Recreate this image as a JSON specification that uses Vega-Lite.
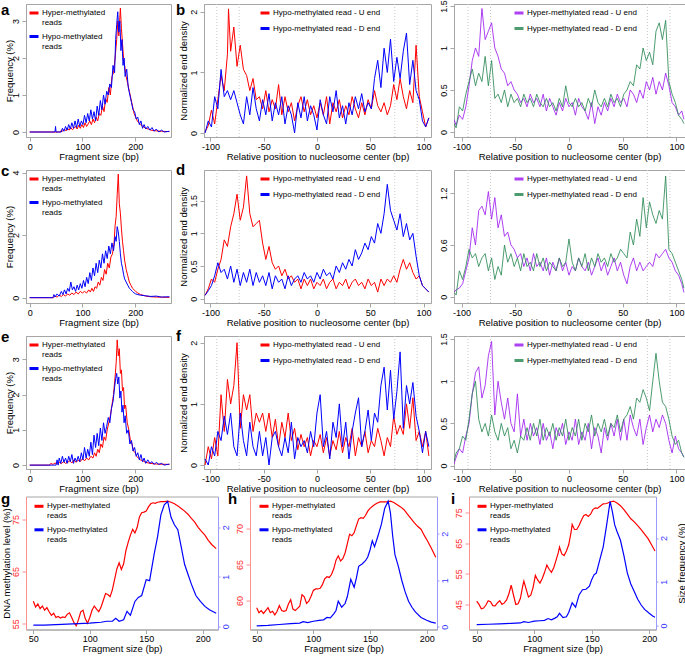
{"$schema":"https://vega.github.io/schema/vega-lite/v6.json","padding":{"left":0,"top":-1,"right":0,"bottom":0},
"config":{"font":"Liberation Sans","view":{"stroke":"#a6a6a6"},
"axis":{"grid":false,"domainColor":"#a6a6a6","tickColor":"#a6a6a6","tickSize":4,"labelFontSize":9,"labelColor":"#000000","labelPadding":2,"titleFontSize":9.5,"titleFontWeight":"normal","titleColor":"#000000","labelFlush":false,"labelOverlap":false},
"axisBottom":{"labelPadding":1},
"axisLeft":{"labelAngle":-90,"labelAlign":"center","labelBaseline":"bottom"},
"axisRight":{"labelAngle":-90,"labelAlign":"center","labelBaseline":"top","tickSize":2,"labelPadding":1,"titleAngle":-90},
"legend":{"symbolType":"stroke","symbolStrokeWidth":3,"symbolSize":81,"labelFontSize":8,"labelOffset":2,"padding":0,"rowPadding":3.5,"labelColor":"#000000"},
"title":{"anchor":"start","frame":"group","fontSize":15,"fontWeight":"bold","baseline":"alphabetic","color":"#000000"}},
"datasets":{
"vl":[{"x":-94},{"x":-73},{"x":73},{"x":94}],
"aR":[{"x":0,"y":0},{"x":58,"y":0},{"x":60,"y":0.05},{"x":63,"y":0.02},{"x":66,"y":0.08},{"x":69,"y":0.03},{"x":72,"y":0.1},{"x":75,"y":0.05},{"x":78,"y":0.12},{"x":81,"y":0.06},{"x":84,"y":0.1},{"x":87,"y":0.15},{"x":90,"y":0.08},{"x":93,"y":0.18},{"x":96,"y":0.1},{"x":99,"y":0.2},{"x":102,"y":0.12},{"x":105,"y":0.25},{"x":108,"y":0.15},{"x":111,"y":0.22},{"x":114,"y":0.3},{"x":117,"y":0.2},{"x":120,"y":0.35},{"x":123,"y":0.25},{"x":126,"y":0.4},{"x":129,"y":0.3},{"x":132,"y":0.5},{"x":135,"y":0.45},{"x":138,"y":0.7},{"x":141,"y":0.55},{"x":144,"y":0.9},{"x":147,"y":0.8},{"x":150,"y":1.2},{"x":153,"y":1.0},{"x":156,"y":1.5},{"x":159,"y":1.6},{"x":162,"y":2.0},{"x":165,"y":2.5},{"x":167,"y":3.0},{"x":169,"y":2.6},{"x":172,"y":3.35},{"x":174,"y":2.8},{"x":176,"y":2.4},{"x":178,"y":2.0},{"x":180,"y":1.8},{"x":183,"y":1.5},{"x":186,"y":1.3},{"x":189,"y":1.1},{"x":192,"y":0.9},{"x":195,"y":0.7},{"x":198,"y":0.5},{"x":201,"y":0.4},{"x":204,"y":0.3},{"x":207,"y":0.25},{"x":210,"y":0.2},{"x":215,"y":0.15},{"x":220,"y":0.1},{"x":225,"y":0.08},{"x":230,"y":0.05},{"x":240,"y":0.03},{"x":250,"y":0.02},{"x":265,"y":0.01}],
"aB":[{"x":0,"y":0},{"x":48,"y":0},{"x":49,"y":0.15},{"x":50,"y":0},{"x":60,"y":0},{"x":62,"y":0.1},{"x":65,"y":0.02},{"x":68,"y":0.15},{"x":71,"y":0.05},{"x":74,"y":0.2},{"x":77,"y":0.08},{"x":80,"y":0.25},{"x":83,"y":0.1},{"x":86,"y":0.3},{"x":89,"y":0.12},{"x":92,"y":0.35},{"x":95,"y":0.15},{"x":98,"y":0.3},{"x":101,"y":0.2},{"x":104,"y":0.45},{"x":107,"y":0.25},{"x":110,"y":0.5},{"x":113,"y":0.3},{"x":116,"y":0.6},{"x":119,"y":0.35},{"x":122,"y":0.55},{"x":125,"y":0.3},{"x":128,"y":0.7},{"x":131,"y":0.45},{"x":134,"y":0.85},{"x":137,"y":0.6},{"x":140,"y":1.0},{"x":143,"y":0.75},{"x":146,"y":1.1},{"x":149,"y":1.0},{"x":152,"y":1.3},{"x":155,"y":1.2},{"x":158,"y":1.8},{"x":161,"y":1.6},{"x":163,"y":2.5},{"x":165,"y":2.9},{"x":167,"y":3.25},{"x":169,"y":2.7},{"x":171,"y":3.0},{"x":173,"y":2.2},{"x":175,"y":2.5},{"x":177,"y":1.8},{"x":179,"y":2.0},{"x":181,"y":1.5},{"x":184,"y":1.7},{"x":187,"y":1.2},{"x":190,"y":1.0},{"x":193,"y":0.8},{"x":196,"y":0.6},{"x":199,"y":0.55},{"x":202,"y":0.35},{"x":205,"y":0.4},{"x":208,"y":0.2},{"x":211,"y":0.3},{"x":214,"y":0.1},{"x":217,"y":0.2},{"x":220,"y":0.08},{"x":224,"y":0.15},{"x":228,"y":0.05},{"x":232,"y":0.12},{"x":236,"y":0.02},{"x":240,"y":0.08},{"x":245,"y":0},{"x":250,"y":0.05},{"x":255,"y":0},{"x":265,"y":0.02}],
"cR":[{"x":0,"y":0},{"x":45,"y":0},{"x":48,"y":0.05},{"x":52,"y":0.02},{"x":56,"y":0.08},{"x":60,"y":0.04},{"x":64,"y":0.1},{"x":68,"y":0.05},{"x":72,"y":0.12},{"x":76,"y":0.08},{"x":80,"y":0.15},{"x":84,"y":0.1},{"x":88,"y":0.18},{"x":92,"y":0.12},{"x":96,"y":0.2},{"x":100,"y":0.15},{"x":104,"y":0.2},{"x":108,"y":0.15},{"x":112,"y":0.25},{"x":115,"y":0.18},{"x":118,"y":0.3},{"x":121,"y":0.2},{"x":124,"y":0.35},{"x":127,"y":0.3},{"x":130,"y":0.5},{"x":133,"y":0.4},{"x":136,"y":0.65},{"x":139,"y":0.55},{"x":142,"y":0.9},{"x":145,"y":0.75},{"x":148,"y":1.1},{"x":151,"y":0.95},{"x":154,"y":1.3},{"x":157,"y":1.4},{"x":160,"y":1.75},{"x":162,"y":2.3},{"x":164,"y":2.6},{"x":166,"y":3.3},{"x":168,"y":3.95},{"x":170,"y":3.0},{"x":172,"y":2.7},{"x":174,"y":2.2},{"x":176,"y":1.8},{"x":178,"y":1.5},{"x":180,"y":1.2},{"x":183,"y":0.9},{"x":186,"y":0.7},{"x":189,"y":0.5},{"x":192,"y":0.4},{"x":195,"y":0.3},{"x":198,"y":0.25},{"x":201,"y":0.2},{"x":205,"y":0.15},{"x":210,"y":0.1},{"x":215,"y":0.08},{"x":220,"y":0.05},{"x":230,"y":0.03},{"x":240,"y":0.02},{"x":265,"y":0.01}],
"cB":[{"x":0,"y":0},{"x":44,"y":0},{"x":46,"y":0.1},{"x":48,"y":0.02},{"x":52,"y":0.12},{"x":56,"y":0.05},{"x":60,"y":0.2},{"x":63,"y":0.1},{"x":66,"y":0.25},{"x":69,"y":0.12},{"x":72,"y":0.3},{"x":75,"y":0.2},{"x":78,"y":0.5},{"x":81,"y":0.25},{"x":84,"y":0.35},{"x":87,"y":0.2},{"x":90,"y":0.4},{"x":93,"y":0.25},{"x":96,"y":0.45},{"x":99,"y":0.3},{"x":102,"y":0.55},{"x":105,"y":0.35},{"x":108,"y":0.65},{"x":111,"y":0.45},{"x":114,"y":0.8},{"x":117,"y":0.55},{"x":120,"y":0.95},{"x":123,"y":0.7},{"x":126,"y":1.1},{"x":129,"y":0.8},{"x":132,"y":1.2},{"x":135,"y":0.95},{"x":138,"y":1.4},{"x":141,"y":1.1},{"x":144,"y":1.5},{"x":147,"y":1.25},{"x":150,"y":1.65},{"x":153,"y":1.4},{"x":156,"y":1.75},{"x":159,"y":1.5},{"x":162,"y":1.95},{"x":164,"y":1.8},{"x":166,"y":2.27},{"x":168,"y":2.1},{"x":170,"y":1.8},{"x":172,"y":1.4},{"x":174,"y":1.1},{"x":176,"y":0.95},{"x":178,"y":0.75},{"x":180,"y":0.6},{"x":183,"y":0.5},{"x":186,"y":0.4},{"x":189,"y":0.3},{"x":192,"y":0.25},{"x":195,"y":0.2},{"x":198,"y":0.15},{"x":201,"y":0.12},{"x":205,"y":0.1},{"x":210,"y":0.08},{"x":220,"y":0.06},{"x":230,"y":0.04},{"x":240,"y":0.05},{"x":250,"y":0.02},{"x":265,"y":0.03}],
"eR":[{"x":0,"y":0},{"x":38,"y":0},{"x":40,"y":0.05},{"x":44,"y":0.02},{"x":48,"y":0.06},{"x":52,"y":0.03},{"x":56,"y":0.08},{"x":60,"y":0.04},{"x":64,"y":0.1},{"x":68,"y":0.05},{"x":72,"y":0.08},{"x":76,"y":0.12},{"x":80,"y":0.06},{"x":84,"y":0.15},{"x":88,"y":0.08},{"x":92,"y":0.14},{"x":96,"y":0.1},{"x":100,"y":0.18},{"x":104,"y":0.12},{"x":108,"y":0.2},{"x":112,"y":0.15},{"x":116,"y":0.25},{"x":120,"y":0.2},{"x":123,"y":0.35},{"x":126,"y":0.25},{"x":129,"y":0.45},{"x":132,"y":0.35},{"x":135,"y":0.6},{"x":138,"y":0.5},{"x":141,"y":0.8},{"x":144,"y":0.7},{"x":147,"y":1.0},{"x":150,"y":1.2},{"x":153,"y":1.4},{"x":156,"y":1.7},{"x":159,"y":2.0},{"x":162,"y":2.5},{"x":164,"y":2.9},{"x":166,"y":3.55},{"x":168,"y":3.1},{"x":170,"y":3.3},{"x":172,"y":2.6},{"x":174,"y":2.7},{"x":176,"y":2.1},{"x":178,"y":2.2},{"x":180,"y":1.6},{"x":182,"y":1.7},{"x":185,"y":1.2},{"x":188,"y":1.0},{"x":191,"y":0.7},{"x":194,"y":0.6},{"x":197,"y":0.4},{"x":200,"y":0.35},{"x":203,"y":0.25},{"x":206,"y":0.2},{"x":210,"y":0.15},{"x":215,"y":0.12},{"x":220,"y":0.08},{"x":228,"y":0.05},{"x":240,"y":0.03},{"x":265,"y":0.02}],
"eB":[{"x":0,"y":0},{"x":50,"y":0},{"x":52,"y":0.15},{"x":54,"y":0},{"x":56,"y":0.2},{"x":59,"y":0.05},{"x":62,"y":0.25},{"x":65,"y":0.08},{"x":68,"y":0.2},{"x":71,"y":0.05},{"x":74,"y":0.25},{"x":77,"y":0.1},{"x":80,"y":0.3},{"x":83,"y":0.05},{"x":86,"y":0.2},{"x":89,"y":0.1},{"x":92,"y":0.25},{"x":95,"y":0.1},{"x":98,"y":0.35},{"x":101,"y":0.15},{"x":104,"y":0.5},{"x":107,"y":0.2},{"x":110,"y":0.45},{"x":113,"y":0.25},{"x":116,"y":0.65},{"x":119,"y":0.3},{"x":122,"y":0.85},{"x":125,"y":0.5},{"x":128,"y":0.9},{"x":131,"y":0.55},{"x":134,"y":1.05},{"x":137,"y":0.7},{"x":140,"y":1.2},{"x":143,"y":0.9},{"x":146,"y":1.1},{"x":149,"y":1.35},{"x":152,"y":1.2},{"x":155,"y":1.6},{"x":158,"y":1.8},{"x":161,"y":2.2},{"x":163,"y":2.45},{"x":165,"y":2.6},{"x":167,"y":2.3},{"x":169,"y":2.5},{"x":171,"y":1.9},{"x":173,"y":2.1},{"x":175,"y":1.5},{"x":177,"y":1.7},{"x":179,"y":1.2},{"x":181,"y":1.4},{"x":184,"y":0.9},{"x":187,"y":1.0},{"x":190,"y":0.6},{"x":193,"y":0.7},{"x":196,"y":0.4},{"x":199,"y":0.5},{"x":202,"y":0.25},{"x":205,"y":0.35},{"x":208,"y":0.15},{"x":211,"y":0.3},{"x":214,"y":0.1},{"x":217,"y":0.2},{"x":220,"y":0.05},{"x":224,"y":0.15},{"x":228,"y":0.05},{"x":232,"y":0.1},{"x":236,"y":0.02},{"x":240,"y":0.08},{"x":245,"y":0.02},{"x":250,"y":0.05},{"x":255,"y":0},{"x":265,"y":0.03}],
"bU":[{"x":-105,"y":0.02},{"x":-102,"y":0.12},{"x":-99,"y":0.38},{"x":-96,"y":0.15},{"x":-93,"y":0.55},{"x":-90,"y":0.95},{"x":-87,"y":0.7},{"x":-84,"y":1.3},{"x":-83,"y":2.05},{"x":-81,"y":1.35},{"x":-78,"y":1.75},{"x":-75,"y":1.1},{"x":-72,"y":1.45},{"x":-69,"y":1.05},{"x":-66,"y":0.95},{"x":-63,"y":0.7},{"x":-60,"y":0.9},{"x":-57,"y":0.55},{"x":-54,"y":0.6},{"x":-51,"y":0.4},{"x":-48,"y":0.7},{"x":-45,"y":0.35},{"x":-42,"y":0.55},{"x":-39,"y":0.4},{"x":-36,"y":0.8},{"x":-33,"y":0.3},{"x":-30,"y":0.6},{"x":-27,"y":0.35},{"x":-24,"y":0.5},{"x":-21,"y":0.2},{"x":-18,"y":0.45},{"x":-15,"y":0.6},{"x":-12,"y":0.35},{"x":-9,"y":0.55},{"x":-6,"y":0.3},{"x":-3,"y":0.45},{"x":0,"y":0.25},{"x":3,"y":0.5},{"x":6,"y":0.3},{"x":9,"y":0.6},{"x":12,"y":0.15},{"x":15,"y":0.5},{"x":18,"y":0.35},{"x":21,"y":0.55},{"x":24,"y":0.25},{"x":27,"y":0.45},{"x":30,"y":0.3},{"x":33,"y":0.6},{"x":36,"y":0.4},{"x":39,"y":0.25},{"x":42,"y":0.5},{"x":45,"y":0.3},{"x":48,"y":0.55},{"x":51,"y":0.4},{"x":54,"y":0.7},{"x":57,"y":0.45},{"x":60,"y":0.35},{"x":63,"y":0.5},{"x":66,"y":0.3},{"x":69,"y":0.45},{"x":72,"y":0.8},{"x":75,"y":0.55},{"x":78,"y":0.9},{"x":81,"y":0.6},{"x":84,"y":0.4},{"x":87,"y":0.7},{"x":90,"y":0.5},{"x":93,"y":1.45},{"x":96,"y":0.6},{"x":99,"y":0.35},{"x":102,"y":0.1},{"x":105,"y":0.25}],
"bD":[{"x":-105,"y":0},{"x":-102,"y":0.2},{"x":-99,"y":0.1},{"x":-96,"y":0.6},{"x":-93,"y":0.4},{"x":-90,"y":1.05},{"x":-87,"y":0.6},{"x":-84,"y":0.7},{"x":-81,"y":0.55},{"x":-78,"y":0.7},{"x":-75,"y":0.5},{"x":-72,"y":0.3},{"x":-69,"y":0.15},{"x":-66,"y":0.6},{"x":-63,"y":0.3},{"x":-60,"y":0.75},{"x":-57,"y":0.4},{"x":-54,"y":0.2},{"x":-51,"y":0.55},{"x":-48,"y":0.3},{"x":-45,"y":0.65},{"x":-42,"y":0.2},{"x":-39,"y":0.5},{"x":-36,"y":0.3},{"x":-33,"y":0.6},{"x":-30,"y":0.15},{"x":-27,"y":0.45},{"x":-24,"y":0.3},{"x":-21,"y":0},{"x":-18,"y":0.5},{"x":-15,"y":0.25},{"x":-12,"y":0.6},{"x":-9,"y":0.2},{"x":-6,"y":0.45},{"x":-3,"y":0.3},{"x":0,"y":0.05},{"x":3,"y":0.55},{"x":6,"y":0.3},{"x":9,"y":0.15},{"x":12,"y":0.6},{"x":15,"y":0.35},{"x":18,"y":0.7},{"x":21,"y":0.25},{"x":24,"y":0.45},{"x":27,"y":0.15},{"x":30,"y":0.5},{"x":33,"y":0.3},{"x":36,"y":0.6},{"x":39,"y":0.4},{"x":42,"y":0.65},{"x":45,"y":0.35},{"x":48,"y":0.5},{"x":51,"y":0.4},{"x":54,"y":0.9},{"x":57,"y":1.2},{"x":60,"y":0.75},{"x":63,"y":1.4},{"x":66,"y":1.0},{"x":69,"y":1.55},{"x":72,"y":0.85},{"x":75,"y":1.25},{"x":78,"y":0.9},{"x":81,"y":1.35},{"x":84,"y":1.65},{"x":87,"y":0.8},{"x":90,"y":1.2},{"x":93,"y":0.7},{"x":96,"y":0.55},{"x":99,"y":0.2},{"x":102,"y":0.1},{"x":105,"y":0.25}],
"b2U":[{"x":-107,"y":0.15},{"x":-105,"y":0.08},{"x":-102,"y":0.2},{"x":-99,"y":0.15},{"x":-96,"y":0.3},{"x":-93,"y":0.55},{"x":-90,"y":0.85},{"x":-87,"y":1.0},{"x":-84,"y":0.9},{"x":-81,"y":1.47},{"x":-78,"y":1.1},{"x":-75,"y":1.2},{"x":-72,"y":1.3},{"x":-69,"y":1.0},{"x":-66,"y":0.9},{"x":-63,"y":0.75},{"x":-60,"y":0.7},{"x":-57,"y":0.55},{"x":-54,"y":0.6},{"x":-51,"y":0.5},{"x":-48,"y":0.45},{"x":-45,"y":0.35},{"x":-42,"y":0.4},{"x":-39,"y":0.3},{"x":-36,"y":0.45},{"x":-33,"y":0.35},{"x":-30,"y":0.4},{"x":-27,"y":0.3},{"x":-24,"y":0.45},{"x":-21,"y":0.25},{"x":-18,"y":0.4},{"x":-15,"y":0.3},{"x":-12,"y":0.2},{"x":-9,"y":0.35},{"x":-6,"y":0.25},{"x":-3,"y":0.4},{"x":0,"y":0.3},{"x":3,"y":0.35},{"x":6,"y":0.2},{"x":9,"y":0.4},{"x":12,"y":0.3},{"x":15,"y":0.25},{"x":18,"y":0.15},{"x":21,"y":0.35},{"x":24,"y":0.1},{"x":27,"y":0.3},{"x":30,"y":0.2},{"x":33,"y":0.35},{"x":36,"y":0.25},{"x":39,"y":0.4},{"x":42,"y":0.3},{"x":45,"y":0.45},{"x":48,"y":0.35},{"x":51,"y":0.4},{"x":54,"y":0.3},{"x":57,"y":0.5},{"x":60,"y":0.45},{"x":63,"y":0.35},{"x":66,"y":0.5},{"x":69,"y":0.4},{"x":72,"y":0.6},{"x":75,"y":0.5},{"x":78,"y":0.65},{"x":81,"y":0.45},{"x":84,"y":0.6},{"x":87,"y":0.5},{"x":90,"y":0.7},{"x":93,"y":0.55},{"x":96,"y":0.35},{"x":99,"y":0.3},{"x":102,"y":0.2},{"x":105,"y":0.25},{"x":107,"y":0.15}],
"b2D":[{"x":-107,"y":0.1},{"x":-105,"y":0.05},{"x":-102,"y":0.3},{"x":-99,"y":0.25},{"x":-96,"y":0.45},{"x":-93,"y":0.6},{"x":-90,"y":0.75},{"x":-87,"y":0.55},{"x":-84,"y":0.7},{"x":-81,"y":0.6},{"x":-78,"y":0.9},{"x":-75,"y":0.55},{"x":-72,"y":0.85},{"x":-69,"y":0.4},{"x":-66,"y":0.45},{"x":-63,"y":0.35},{"x":-60,"y":0.5},{"x":-57,"y":0.3},{"x":-54,"y":0.45},{"x":-51,"y":0.35},{"x":-48,"y":0.4},{"x":-45,"y":0.3},{"x":-42,"y":0.45},{"x":-39,"y":0.35},{"x":-36,"y":0.4},{"x":-33,"y":0.3},{"x":-30,"y":0.45},{"x":-27,"y":0.35},{"x":-24,"y":0.3},{"x":-21,"y":0.4},{"x":-18,"y":0.3},{"x":-15,"y":0.35},{"x":-12,"y":0.25},{"x":-9,"y":0.4},{"x":-6,"y":0.3},{"x":-3,"y":0.55},{"x":0,"y":0.35},{"x":3,"y":0.3},{"x":6,"y":0.4},{"x":9,"y":0.3},{"x":12,"y":0.35},{"x":15,"y":0.25},{"x":18,"y":0.4},{"x":21,"y":0.3},{"x":24,"y":0.5},{"x":27,"y":0.35},{"x":30,"y":0.3},{"x":33,"y":0.4},{"x":36,"y":0.3},{"x":39,"y":0.45},{"x":42,"y":0.35},{"x":45,"y":0.4},{"x":48,"y":0.3},{"x":51,"y":0.45},{"x":54,"y":0.5},{"x":57,"y":0.6},{"x":60,"y":0.55},{"x":63,"y":0.8},{"x":66,"y":0.75},{"x":69,"y":1.0},{"x":72,"y":0.85},{"x":75,"y":0.95},{"x":78,"y":0.8},{"x":81,"y":1.2},{"x":84,"y":1.3},{"x":87,"y":1.1},{"x":90,"y":1.33},{"x":93,"y":0.6},{"x":96,"y":0.45},{"x":99,"y":0.35},{"x":102,"y":0.2},{"x":105,"y":0.15},{"x":107,"y":0.1}],
"dU":[{"x":-105,"y":0.05},{"x":-102,"y":0.15},{"x":-99,"y":0.3},{"x":-96,"y":0.25},{"x":-93,"y":0.45},{"x":-90,"y":0.6},{"x":-87,"y":0.9},{"x":-84,"y":0.8},{"x":-81,"y":1.1},{"x":-78,"y":1.3},{"x":-75,"y":1.6},{"x":-72,"y":1.2},{"x":-69,"y":1.4},{"x":-66,"y":1.88},{"x":-63,"y":1.3},{"x":-60,"y":1.1},{"x":-57,"y":1.15},{"x":-54,"y":1.2},{"x":-51,"y":0.85},{"x":-48,"y":0.6},{"x":-45,"y":0.8},{"x":-42,"y":0.55},{"x":-39,"y":0.45},{"x":-36,"y":0.5},{"x":-33,"y":0.35},{"x":-30,"y":0.45},{"x":-27,"y":0.3},{"x":-24,"y":0.35},{"x":-21,"y":0.25},{"x":-18,"y":0.3},{"x":-15,"y":0.15},{"x":-12,"y":0.3},{"x":-9,"y":0.2},{"x":-6,"y":0.3},{"x":-3,"y":0.15},{"x":0,"y":0.25},{"x":3,"y":0.2},{"x":6,"y":0.3},{"x":9,"y":0.15},{"x":12,"y":0.25},{"x":15,"y":0.3},{"x":18,"y":0.15},{"x":21,"y":0.25},{"x":24,"y":0.2},{"x":27,"y":0.3},{"x":30,"y":0.15},{"x":33,"y":0.25},{"x":36,"y":0.3},{"x":39,"y":0.2},{"x":42,"y":0.25},{"x":45,"y":0.15},{"x":48,"y":0.3},{"x":51,"y":0.2},{"x":54,"y":0.25},{"x":57,"y":0.1},{"x":60,"y":0.3},{"x":63,"y":0.2},{"x":66,"y":0.3},{"x":69,"y":0.25},{"x":72,"y":0.35},{"x":75,"y":0.25},{"x":78,"y":0.45},{"x":81,"y":0.6},{"x":84,"y":0.45},{"x":87,"y":0.55},{"x":90,"y":0.4},{"x":93,"y":0.3},{"x":96,"y":0.35},{"x":99,"y":0.2},{"x":102,"y":0.15},{"x":105,"y":0.1}],
"dD":[{"x":-105,"y":0.05},{"x":-102,"y":0.12},{"x":-99,"y":0.2},{"x":-96,"y":0.35},{"x":-93,"y":0.55},{"x":-90,"y":0.4},{"x":-87,"y":0.45},{"x":-84,"y":0.3},{"x":-81,"y":0.5},{"x":-78,"y":0.25},{"x":-75,"y":0.45},{"x":-72,"y":0.2},{"x":-69,"y":0.4},{"x":-66,"y":0.25},{"x":-63,"y":0.45},{"x":-60,"y":0.2},{"x":-57,"y":0.4},{"x":-54,"y":0.25},{"x":-51,"y":0.35},{"x":-48,"y":0.2},{"x":-45,"y":0.4},{"x":-42,"y":0.15},{"x":-39,"y":0.35},{"x":-36,"y":0.25},{"x":-33,"y":0.3},{"x":-30,"y":0.15},{"x":-27,"y":0.35},{"x":-24,"y":0.2},{"x":-21,"y":0.3},{"x":-18,"y":0.35},{"x":-15,"y":0.25},{"x":-12,"y":0.4},{"x":-9,"y":0.3},{"x":-6,"y":0.35},{"x":-3,"y":0.25},{"x":0,"y":0.4},{"x":3,"y":0.3},{"x":6,"y":0.45},{"x":9,"y":0.35},{"x":12,"y":0.4},{"x":15,"y":0.3},{"x":18,"y":0.5},{"x":21,"y":0.4},{"x":24,"y":0.55},{"x":27,"y":0.45},{"x":30,"y":0.6},{"x":33,"y":0.5},{"x":36,"y":0.75},{"x":39,"y":0.6},{"x":42,"y":0.7},{"x":45,"y":0.85},{"x":48,"y":0.75},{"x":51,"y":0.95},{"x":54,"y":0.85},{"x":57,"y":1.15},{"x":60,"y":1.0},{"x":63,"y":1.3},{"x":66,"y":1.75},{"x":69,"y":1.35},{"x":72,"y":1.2},{"x":75,"y":1.05},{"x":78,"y":1.3},{"x":81,"y":0.95},{"x":84,"y":1.15},{"x":87,"y":0.9},{"x":90,"y":1.0},{"x":93,"y":0.65},{"x":96,"y":0.35},{"x":99,"y":0.2},{"x":102,"y":0.15},{"x":105,"y":0.1}],
"d2U":[{"x":-107,"y":0.05},{"x":-105,"y":0.08},{"x":-102,"y":0.1},{"x":-99,"y":0.15},{"x":-96,"y":0.3},{"x":-93,"y":0.45},{"x":-90,"y":0.8},{"x":-87,"y":0.6},{"x":-84,"y":1.0},{"x":-81,"y":1.05},{"x":-78,"y":0.95},{"x":-75,"y":1.22},{"x":-72,"y":0.9},{"x":-69,"y":1.15},{"x":-66,"y":0.8},{"x":-63,"y":0.95},{"x":-60,"y":0.7},{"x":-57,"y":0.75},{"x":-54,"y":0.6},{"x":-51,"y":0.55},{"x":-48,"y":0.45},{"x":-45,"y":0.5},{"x":-42,"y":0.35},{"x":-39,"y":0.45},{"x":-36,"y":0.3},{"x":-33,"y":0.5},{"x":-30,"y":0.35},{"x":-27,"y":0.4},{"x":-24,"y":0.3},{"x":-21,"y":0.45},{"x":-18,"y":0.25},{"x":-15,"y":0.4},{"x":-12,"y":0.3},{"x":-9,"y":0.45},{"x":-6,"y":0.3},{"x":-3,"y":0.4},{"x":0,"y":0.25},{"x":3,"y":0.35},{"x":6,"y":0.3},{"x":9,"y":0.45},{"x":12,"y":0.35},{"x":15,"y":0.3},{"x":18,"y":0.4},{"x":21,"y":0.25},{"x":24,"y":0.35},{"x":27,"y":0.45},{"x":30,"y":0.3},{"x":33,"y":0.4},{"x":36,"y":0.25},{"x":39,"y":0.35},{"x":42,"y":0.45},{"x":45,"y":0.3},{"x":48,"y":0.4},{"x":51,"y":0.25},{"x":54,"y":0.15},{"x":57,"y":0.35},{"x":60,"y":0.45},{"x":63,"y":0.3},{"x":66,"y":0.4},{"x":69,"y":0.3},{"x":72,"y":0.35},{"x":75,"y":0.4},{"x":78,"y":0.35},{"x":81,"y":0.5},{"x":84,"y":0.45},{"x":87,"y":0.5},{"x":90,"y":0.55},{"x":93,"y":0.45},{"x":96,"y":0.4},{"x":99,"y":0.3},{"x":102,"y":0.25},{"x":105,"y":0.15},{"x":107,"y":0.05}],
"d2D":[{"x":-107,"y":0.05},{"x":-105,"y":0.02},{"x":-102,"y":0.3},{"x":-99,"y":0.2},{"x":-96,"y":0.35},{"x":-93,"y":0.55},{"x":-90,"y":0.45},{"x":-87,"y":0.5},{"x":-84,"y":0.35},{"x":-81,"y":0.45},{"x":-78,"y":0.5},{"x":-75,"y":0.3},{"x":-72,"y":0.45},{"x":-69,"y":0.2},{"x":-66,"y":0.35},{"x":-63,"y":0.25},{"x":-60,"y":0.6},{"x":-57,"y":0.4},{"x":-54,"y":0.5},{"x":-51,"y":0.35},{"x":-48,"y":0.45},{"x":-45,"y":0.3},{"x":-42,"y":0.5},{"x":-39,"y":0.35},{"x":-36,"y":0.4},{"x":-33,"y":0.3},{"x":-30,"y":0.5},{"x":-27,"y":0.35},{"x":-24,"y":0.45},{"x":-21,"y":0.3},{"x":-18,"y":0.4},{"x":-15,"y":0.35},{"x":-12,"y":0.3},{"x":-9,"y":0.45},{"x":-6,"y":0.35},{"x":-3,"y":0.4},{"x":0,"y":0.67},{"x":3,"y":0.4},{"x":6,"y":0.3},{"x":9,"y":0.45},{"x":12,"y":0.35},{"x":15,"y":0.5},{"x":18,"y":0.3},{"x":21,"y":0.45},{"x":24,"y":0.35},{"x":27,"y":0.5},{"x":30,"y":0.4},{"x":33,"y":0.45},{"x":36,"y":0.35},{"x":39,"y":0.5},{"x":42,"y":0.4},{"x":45,"y":0.45},{"x":48,"y":0.55},{"x":51,"y":0.5},{"x":54,"y":0.45},{"x":57,"y":0.75},{"x":60,"y":0.6},{"x":63,"y":0.9},{"x":66,"y":0.7},{"x":69,"y":1.15},{"x":72,"y":0.8},{"x":75,"y":1.1},{"x":78,"y":0.95},{"x":81,"y":0.85},{"x":84,"y":1.0},{"x":87,"y":0.9},{"x":90,"y":1.4},{"x":93,"y":0.55},{"x":96,"y":0.5},{"x":99,"y":0.4},{"x":102,"y":0.3},{"x":105,"y":0.2},{"x":107,"y":0.1}],
"fU":[{"x":-105,"y":0},{"x":-102,"y":0.3},{"x":-99,"y":0.1},{"x":-96,"y":0.45},{"x":-93,"y":0.15},{"x":-90,"y":1.15},{"x":-87,"y":0.55},{"x":-84,"y":1.4},{"x":-81,"y":1.0},{"x":-78,"y":1.3},{"x":-75,"y":2.0},{"x":-72,"y":0.6},{"x":-69,"y":1.15},{"x":-66,"y":0.9},{"x":-63,"y":1.15},{"x":-60,"y":0.55},{"x":-57,"y":0.85},{"x":-54,"y":0.7},{"x":-51,"y":0.85},{"x":-48,"y":0.55},{"x":-45,"y":0.85},{"x":-42,"y":0.45},{"x":-39,"y":0.75},{"x":-36,"y":0.3},{"x":-33,"y":0.7},{"x":-30,"y":0.45},{"x":-27,"y":0.85},{"x":-24,"y":0.4},{"x":-21,"y":0.6},{"x":-18,"y":0.25},{"x":-15,"y":0.5},{"x":-12,"y":0.3},{"x":-9,"y":0.45},{"x":-6,"y":0.15},{"x":-3,"y":0.4},{"x":0,"y":0.3},{"x":3,"y":0.5},{"x":6,"y":0.2},{"x":9,"y":0.45},{"x":12,"y":0.15},{"x":15,"y":0.4},{"x":18,"y":0.25},{"x":21,"y":0.55},{"x":24,"y":0.2},{"x":27,"y":0.45},{"x":30,"y":0.3},{"x":33,"y":0.6},{"x":36,"y":0.15},{"x":39,"y":0.45},{"x":42,"y":0.3},{"x":45,"y":0.55},{"x":48,"y":0.2},{"x":51,"y":0.4},{"x":54,"y":0.3},{"x":57,"y":0.6},{"x":60,"y":0.4},{"x":63,"y":0.15},{"x":66,"y":0.45},{"x":69,"y":0.3},{"x":72,"y":0.8},{"x":75,"y":0.5},{"x":78,"y":0.65},{"x":81,"y":0.5},{"x":84,"y":1.0},{"x":87,"y":0.6},{"x":90,"y":1.1},{"x":93,"y":0.4},{"x":96,"y":0.55},{"x":99,"y":0.3},{"x":102,"y":0.55},{"x":105,"y":0.15}],
"fD":[{"x":-105,"y":0.1},{"x":-102,"y":0},{"x":-99,"y":0.3},{"x":-96,"y":0.15},{"x":-93,"y":0.55},{"x":-90,"y":0.4},{"x":-87,"y":0.8},{"x":-84,"y":0.5},{"x":-81,"y":0.85},{"x":-78,"y":0.3},{"x":-75,"y":0.15},{"x":-72,"y":0.85},{"x":-69,"y":0.4},{"x":-66,"y":0.15},{"x":-63,"y":0.7},{"x":-60,"y":0.3},{"x":-57,"y":0.15},{"x":-54,"y":0.55},{"x":-51,"y":0.15},{"x":-48,"y":0.45},{"x":-45,"y":0},{"x":-42,"y":0.45},{"x":-39,"y":0.55},{"x":-36,"y":0.3},{"x":-33,"y":0.15},{"x":-30,"y":0.45},{"x":-27,"y":0.2},{"x":-24,"y":0.7},{"x":-21,"y":0.1},{"x":-18,"y":0.45},{"x":-15,"y":0.3},{"x":-12,"y":0.4},{"x":-9,"y":0.2},{"x":-6,"y":0.55},{"x":-3,"y":0.3},{"x":0,"y":0.85},{"x":3,"y":1.15},{"x":6,"y":0.3},{"x":9,"y":0.55},{"x":12,"y":0.1},{"x":15,"y":0.7},{"x":18,"y":0.45},{"x":21,"y":1.0},{"x":24,"y":0.3},{"x":27,"y":0.7},{"x":30,"y":0.1},{"x":33,"y":0.55},{"x":36,"y":0.85},{"x":39,"y":1.1},{"x":42,"y":0.3},{"x":45,"y":0.55},{"x":48,"y":0.9},{"x":51,"y":0.4},{"x":54,"y":0.85},{"x":57,"y":0.7},{"x":60,"y":1.3},{"x":63,"y":1.6},{"x":66,"y":0.9},{"x":69,"y":1.55},{"x":72,"y":0.75},{"x":75,"y":1.2},{"x":78,"y":1.85},{"x":81,"y":0.6},{"x":84,"y":1.3},{"x":87,"y":1.0},{"x":90,"y":1.35},{"x":93,"y":0.8},{"x":96,"y":0.55},{"x":99,"y":0.2},{"x":102,"y":0.55},{"x":105,"y":0.3}],
"f2U":[{"x":-107,"y":0.02},{"x":-105,"y":0.1},{"x":-102,"y":0.2},{"x":-99,"y":0.15},{"x":-96,"y":0.35},{"x":-93,"y":0.5},{"x":-90,"y":0.85},{"x":-87,"y":1.1},{"x":-84,"y":1.17},{"x":-81,"y":0.8},{"x":-78,"y":0.95},{"x":-75,"y":1.3},{"x":-72,"y":1.47},{"x":-69,"y":0.6},{"x":-66,"y":1.0},{"x":-63,"y":0.75},{"x":-60,"y":0.55},{"x":-57,"y":0.8},{"x":-54,"y":0.5},{"x":-51,"y":0.4},{"x":-48,"y":0.85},{"x":-45,"y":0.35},{"x":-42,"y":0.55},{"x":-39,"y":0.3},{"x":-36,"y":0.5},{"x":-33,"y":0.35},{"x":-30,"y":0.45},{"x":-27,"y":0.25},{"x":-24,"y":0.5},{"x":-21,"y":0.3},{"x":-18,"y":0.4},{"x":-15,"y":0.2},{"x":-12,"y":0.45},{"x":-9,"y":0.35},{"x":-6,"y":0.5},{"x":-3,"y":0.25},{"x":0,"y":0.4},{"x":3,"y":0.3},{"x":6,"y":0.55},{"x":9,"y":0.25},{"x":12,"y":0.4},{"x":15,"y":0.3},{"x":18,"y":0.5},{"x":21,"y":0.2},{"x":24,"y":0.45},{"x":27,"y":0.35},{"x":30,"y":0.15},{"x":33,"y":0.45},{"x":36,"y":0.3},{"x":39,"y":0.5},{"x":42,"y":0.35},{"x":45,"y":0.55},{"x":48,"y":0.3},{"x":51,"y":0.55},{"x":54,"y":0.3},{"x":57,"y":0.6},{"x":60,"y":0.45},{"x":63,"y":0.35},{"x":66,"y":0.55},{"x":69,"y":0.25},{"x":72,"y":0.45},{"x":75,"y":0.6},{"x":78,"y":0.4},{"x":81,"y":0.55},{"x":84,"y":0.45},{"x":87,"y":0.6},{"x":90,"y":0.5},{"x":93,"y":0.3},{"x":96,"y":0.15},{"x":99,"y":0.35},{"x":102,"y":0.2},{"x":105,"y":0.15},{"x":107,"y":0.1}],
"f2D":[{"x":-107,"y":0.05},{"x":-105,"y":0.15},{"x":-102,"y":0.2},{"x":-99,"y":0.35},{"x":-96,"y":0.3},{"x":-93,"y":0.55},{"x":-90,"y":0.85},{"x":-87,"y":1.0},{"x":-84,"y":0.55},{"x":-81,"y":0.4},{"x":-78,"y":0.5},{"x":-75,"y":0.35},{"x":-72,"y":0.6},{"x":-69,"y":0.4},{"x":-66,"y":0.3},{"x":-63,"y":0.5},{"x":-60,"y":0.35},{"x":-57,"y":0.45},{"x":-54,"y":0.2},{"x":-51,"y":0.3},{"x":-48,"y":0.15},{"x":-45,"y":0.35},{"x":-42,"y":0.3},{"x":-39,"y":0.45},{"x":-36,"y":0.3},{"x":-33,"y":0.5},{"x":-30,"y":0.35},{"x":-27,"y":0.55},{"x":-24,"y":0.3},{"x":-21,"y":0.45},{"x":-18,"y":0.35},{"x":-15,"y":0.5},{"x":-12,"y":0.3},{"x":-9,"y":0.45},{"x":-6,"y":0.35},{"x":-3,"y":0.55},{"x":0,"y":0.3},{"x":3,"y":0.45},{"x":6,"y":0.35},{"x":9,"y":0.55},{"x":12,"y":0.3},{"x":15,"y":0.5},{"x":18,"y":0.4},{"x":21,"y":0.6},{"x":24,"y":0.35},{"x":27,"y":0.5},{"x":30,"y":0.4},{"x":33,"y":0.55},{"x":36,"y":0.35},{"x":39,"y":0.5},{"x":42,"y":0.45},{"x":45,"y":0.6},{"x":48,"y":0.4},{"x":51,"y":0.55},{"x":54,"y":0.6},{"x":57,"y":0.7},{"x":60,"y":0.55},{"x":63,"y":0.8},{"x":66,"y":0.75},{"x":69,"y":0.9},{"x":72,"y":0.8},{"x":75,"y":0.65},{"x":78,"y":1.0},{"x":81,"y":1.33},{"x":84,"y":1.0},{"x":87,"y":0.75},{"x":90,"y":0.7},{"x":93,"y":0.55},{"x":96,"y":0.35},{"x":99,"y":0.25},{"x":102,"y":0.3},{"x":105,"y":0.15},{"x":107,"y":0.1}],
"gR":[{"x":50,"y":59.3},{"x":52,"y":58.2},{"x":54,"y":58.8},{"x":56,"y":57.9},{"x":58,"y":58.4},{"x":60,"y":57.6},{"x":62,"y":58.1},{"x":64,"y":57.3},{"x":66,"y":56.6},{"x":68,"y":57.0},{"x":70,"y":56.2},{"x":72,"y":56.4},{"x":74,"y":56.1},{"x":76,"y":56.3},{"x":78,"y":56.2},{"x":80,"y":56.8},{"x":82,"y":57.1},{"x":84,"y":56.2},{"x":86,"y":55.2},{"x":88,"y":54.6},{"x":90,"y":55.8},{"x":92,"y":57.3},{"x":94,"y":57.6},{"x":96,"y":56.0},{"x":98,"y":55.1},{"x":100,"y":56.2},{"x":102,"y":57.6},{"x":104,"y":58.4},{"x":106,"y":57.8},{"x":108,"y":57.3},{"x":110,"y":58.2},{"x":112,"y":59.5},{"x":114,"y":60.8},{"x":116,"y":60.6},{"x":118,"y":60.2},{"x":120,"y":61.5},{"x":122,"y":63.5},{"x":124,"y":65.5},{"x":126,"y":66.7},{"x":128,"y":65.4},{"x":130,"y":66.5},{"x":132,"y":69.0},{"x":134,"y":70.6},{"x":136,"y":72.0},{"x":138,"y":73.1},{"x":140,"y":72.4},{"x":142,"y":73.5},{"x":144,"y":75.5},{"x":146,"y":76.3},{"x":148,"y":76.4},{"x":150,"y":76.6},{"x":152,"y":77.4},{"x":154,"y":78.0},{"x":156,"y":78.2},{"x":158,"y":78.1},{"x":160,"y":78.3},{"x":163,"y":78.4},{"x":166,"y":78.4},{"x":169,"y":78.5},{"x":172,"y":78.3},{"x":175,"y":78.0},{"x":178,"y":77.6},{"x":181,"y":77.1},{"x":184,"y":76.6},{"x":187,"y":76.0},{"x":190,"y":75.2},{"x":193,"y":74.5},{"x":196,"y":73.5},{"x":199,"y":72.7},{"x":202,"y":72.0},{"x":205,"y":71.0},{"x":208,"y":70.2},{"x":212,"y":69.4}],
"gB":[{"x":50,"y":0.02},{"x":60,"y":0.02},{"x":70,"y":0.03},{"x":80,"y":0.04},{"x":90,"y":0.05},{"x":100,"y":0.06},{"x":105,"y":0.07},{"x":110,"y":0.08},{"x":115,"y":0.1},{"x":120,"y":0.1},{"x":123,"y":0.16},{"x":126,"y":0.1},{"x":130,"y":0.13},{"x":133,"y":0.3},{"x":136,"y":0.22},{"x":140,"y":0.5},{"x":143,"y":0.58},{"x":146,"y":0.62},{"x":150,"y":0.94},{"x":153,"y":0.92},{"x":157,"y":1.45},{"x":160,"y":1.8},{"x":163,"y":2.25},{"x":166,"y":2.45},{"x":169,"y":2.52},{"x":172,"y":2.2},{"x":175,"y":2.05},{"x":178,"y":1.95},{"x":181,"y":1.6},{"x":184,"y":1.25},{"x":187,"y":1.05},{"x":190,"y":0.85},{"x":194,"y":0.62},{"x":198,"y":0.5},{"x":202,"y":0.4},{"x":206,"y":0.33},{"x":212,"y":0.26}],
"hR":[{"x":50,"y":59.0},{"x":52,"y":58.3},{"x":54,"y":58.6},{"x":56,"y":58.2},{"x":58,"y":58.6},{"x":60,"y":59.0},{"x":62,"y":58.3},{"x":64,"y":58.5},{"x":66,"y":58.0},{"x":68,"y":58.5},{"x":70,"y":59.3},{"x":72,"y":58.6},{"x":74,"y":58.5},{"x":76,"y":58.6},{"x":78,"y":59.5},{"x":80,"y":60.1},{"x":82,"y":58.8},{"x":84,"y":58.6},{"x":86,"y":58.9},{"x":88,"y":59.2},{"x":90,"y":60.8},{"x":92,"y":60.5},{"x":94,"y":59.6},{"x":96,"y":59.9},{"x":98,"y":60.6},{"x":100,"y":61.4},{"x":102,"y":61.6},{"x":104,"y":61.6},{"x":106,"y":61.7},{"x":108,"y":62.2},{"x":110,"y":63.0},{"x":112,"y":63.3},{"x":114,"y":63.2},{"x":116,"y":63.6},{"x":118,"y":64.4},{"x":120,"y":65.6},{"x":122,"y":66.2},{"x":124,"y":65.5},{"x":126,"y":65.8},{"x":128,"y":66.6},{"x":130,"y":67.9},{"x":132,"y":69.2},{"x":134,"y":69.0},{"x":136,"y":69.4},{"x":138,"y":70.4},{"x":140,"y":71.3},{"x":142,"y":71.5},{"x":144,"y":71.4},{"x":146,"y":71.8},{"x":148,"y":72.4},{"x":150,"y":72.8},{"x":153,"y":73.2},{"x":156,"y":73.5},{"x":159,"y":73.7},{"x":162,"y":73.7},{"x":165,"y":73.7},{"x":168,"y":73.8},{"x":171,"y":73.6},{"x":174,"y":73.3},{"x":177,"y":73.0},{"x":180,"y":72.6},{"x":183,"y":72.0},{"x":186,"y":71.4},{"x":189,"y":70.8},{"x":192,"y":70.3},{"x":195,"y":69.9},{"x":198,"y":69.0},{"x":201,"y":68.2},{"x":204,"y":67.3},{"x":208,"y":66.0}],
"hB":[{"x":50,"y":0.02},{"x":60,"y":0.03},{"x":70,"y":0.05},{"x":80,"y":0.07},{"x":88,"y":0.08},{"x":91,"y":0.11},{"x":95,"y":0.09},{"x":100,"y":0.12},{"x":105,"y":0.14},{"x":109,"y":0.15},{"x":112,"y":0.2},{"x":115,"y":0.19},{"x":118,"y":0.28},{"x":120,"y":0.35},{"x":122,"y":0.55},{"x":125,"y":0.42},{"x":128,"y":0.5},{"x":130,"y":0.65},{"x":133,"y":1.02},{"x":136,"y":0.85},{"x":138,"y":1.05},{"x":140,"y":1.3},{"x":143,"y":1.35},{"x":146,"y":1.42},{"x":148,"y":1.5},{"x":150,"y":1.65},{"x":152,"y":1.85},{"x":154,"y":1.72},{"x":157,"y":1.95},{"x":160,"y":2.2},{"x":163,"y":2.55},{"x":166,"y":2.7},{"x":168,"y":2.45},{"x":170,"y":1.95},{"x":172,"y":1.55},{"x":175,"y":1.3},{"x":178,"y":1.0},{"x":181,"y":0.75},{"x":184,"y":0.55},{"x":187,"y":0.42},{"x":190,"y":0.32},{"x":195,"y":0.2},{"x":200,"y":0.14},{"x":204,"y":0.1},{"x":208,"y":0.08}],
"iR":[{"x":50,"y":46.1},{"x":52,"y":45.0},{"x":54,"y":43.6},{"x":56,"y":43.8},{"x":58,"y":44.8},{"x":60,"y":46.2},{"x":62,"y":45.9},{"x":64,"y":44.6},{"x":66,"y":44.5},{"x":68,"y":45.5},{"x":70,"y":46.2},{"x":72,"y":45.0},{"x":74,"y":45.5},{"x":76,"y":46.5},{"x":78,"y":48.5},{"x":80,"y":51.3},{"x":82,"y":48.0},{"x":84,"y":45.0},{"x":86,"y":45.2},{"x":88,"y":47.0},{"x":90,"y":51.0},{"x":91,"y":52.6},{"x":93,"y":50.0},{"x":95,"y":47.4},{"x":97,"y":48.0},{"x":99,"y":50.5},{"x":101,"y":54.5},{"x":103,"y":53.0},{"x":105,"y":52.0},{"x":107,"y":53.5},{"x":109,"y":55.5},{"x":111,"y":57.9},{"x":113,"y":56.5},{"x":115,"y":55.5},{"x":117,"y":57.0},{"x":119,"y":59.5},{"x":121,"y":62.0},{"x":122,"y":63.8},{"x":124,"y":61.5},{"x":126,"y":61.0},{"x":128,"y":62.5},{"x":130,"y":64.5},{"x":132,"y":68.5},{"x":133,"y":71.2},{"x":135,"y":69.5},{"x":137,"y":69.5},{"x":139,"y":70.8},{"x":141,"y":72.5},{"x":143,"y":74.0},{"x":145,"y":74.4},{"x":147,"y":73.8},{"x":149,"y":74.5},{"x":151,"y":76.0},{"x":153,"y":76.6},{"x":155,"y":76.4},{"x":157,"y":77.0},{"x":160,"y":77.9},{"x":163,"y":78.0},{"x":166,"y":78.5},{"x":169,"y":78.8},{"x":172,"y":78.2},{"x":175,"y":77.3},{"x":178,"y":76.0},{"x":181,"y":74.5},{"x":184,"y":73.0},{"x":187,"y":72.0},{"x":190,"y":70.8},{"x":193,"y":69.5},{"x":196,"y":68.0},{"x":199,"y":66.5},{"x":202,"y":64.5},{"x":205,"y":62.5}],
"iB":[{"x":50,"y":0.02},{"x":60,"y":0.03},{"x":70,"y":0.04},{"x":80,"y":0.05},{"x":88,"y":0.06},{"x":91,"y":0.09},{"x":95,"y":0.07},{"x":100,"y":0.1},{"x":105,"y":0.11},{"x":109,"y":0.12},{"x":112,"y":0.16},{"x":115,"y":0.13},{"x":118,"y":0.17},{"x":120,"y":0.2},{"x":122,"y":0.28},{"x":125,"y":0.18},{"x":128,"y":0.2},{"x":130,"y":0.3},{"x":133,"y":0.52},{"x":136,"y":0.42},{"x":139,"y":0.7},{"x":142,"y":0.82},{"x":145,"y":0.83},{"x":148,"y":0.9},{"x":150,"y":1.05},{"x":152,"y":1.16},{"x":154,"y":1.2},{"x":157,"y":1.5},{"x":160,"y":1.8},{"x":163,"y":2.3},{"x":166,"y":2.84},{"x":168,"y":2.6},{"x":170,"y":2.3},{"x":172,"y":2.15},{"x":175,"y":1.95},{"x":178,"y":1.6},{"x":181,"y":1.2},{"x":184,"y":0.95},{"x":187,"y":0.78},{"x":190,"y":0.6},{"x":193,"y":0.47},{"x":196,"y":0.37},{"x":200,"y":0.28},{"x":203,"y":0.22},{"x":205,"y":0.19}]
},
"vconcat":[
{"concat":[
{"width":145,"height":133,"title":{"text":"a","dx":-25,"offset":-14},"layer":[
{"data":{"name":"aR"},"mark":{"type":"line","strokeWidth":1,"clip":true},"encoding":{"x":{"field":"x","type":"quantitative","scale":{"domain":[-7,268],"nice":false,"zero":false},"axis":{"values":[0,100,200],"labelExpr":"datum.value+''","title":"Fragment size (bp)","titleY":22,"titleBaseline":"alphabetic"}},"y":{"field":"y","type":"quantitative","scale":{"domain":[-0.135,3.46],"nice":false,"zero":false},"axis":{"values":[0,1,2,3],"labelExpr":"datum.value+''","title":"Frequency (%)","titleX":-14,"titleBaseline":"alphabetic"}},"color":{"datum":"Hyper-methylated reads","scale":{"domain":["Hyper-methylated reads","Hypo-methylated reads"],"range":["#ff0000","#0000ff"]},"legend":{"orient":"none","legendX":2,"legendY":3,"title":null,"labelExpr":"split(datum.label, ' ')"}}}},
{"data":{"name":"aB"},"mark":{"type":"line","strokeWidth":1,"clip":true},"encoding":{"x":{"field":"x","type":"quantitative"},"y":{"field":"y","type":"quantitative"},"color":{"datum":"Hypo-methylated reads"}}}]},
{"width":33,"height":133,"data":{"values":[]},"mark":"point","view":{"stroke":null}},
{"width":227,"height":133,"title":{"text":"b","dx":-28,"offset":-14},"layer":[
{"data":{"name":"vl"},"mark":{"type":"rule","color":"#c8c8c8","strokeDash":[1,2]},"encoding":{"x":{"field":"x","type":"quantitative","scale":{"domain":[-106,107],"nice":false,"zero":false},"axis":{"values":[-100,-50,0,50,100],"labelExpr":"datum.value+''","title":"Relative position to nucleosome center (bp)","titleY":22,"titleBaseline":"alphabetic"}}}},
{"data":{"name":"bU"},"mark":{"type":"line","strokeWidth":1,"clip":true},"encoding":{"x":{"field":"x","type":"quantitative"},"y":{"field":"y","type":"quantitative","scale":{"domain":[-0.066,2.13],"nice":false,"zero":false},"axis":{"values":[0,1,2],"labelExpr":"datum.value+''","title":"Normalized end density","titleX":-18,"titleBaseline":"alphabetic"}},"color":{"datum":"Hypo-methylated read - U end","scale":{"domain":["Hypo-methylated read - U end","Hypo-methylated read - D end"],"range":["#ff0000","#0000ff"]},"legend":{"orient":"none","legendX":55,"legendY":3,"title":null}}}},
{"data":{"name":"bD"},"mark":{"type":"line","strokeWidth":1,"clip":true},"encoding":{"x":{"field":"x","type":"quantitative"},"y":{"field":"y","type":"quantitative"},"color":{"datum":"Hypo-methylated read - D end"}}}]},
{"width":23,"height":133,"data":{"values":[]},"mark":"point","view":{"stroke":null}},
{"width":231,"height":133,"layer":[
{"data":{"name":"vl"},"mark":{"type":"rule","color":"#c8c8c8","strokeDash":[1,2]},"encoding":{"x":{"field":"x","type":"quantitative","scale":{"domain":[-107,108],"nice":false,"zero":false},"axis":{"values":[-100,-50,0,50,100],"labelExpr":"datum.value+''","title":"Relative position to nucleosome center (bp)","titleY":22,"titleBaseline":"alphabetic"}}}},
{"data":{"name":"b2U"},"mark":{"type":"line","strokeWidth":1,"opacity":0.85,"clip":true},"encoding":{"x":{"field":"x","type":"quantitative"},"y":{"field":"y","type":"quantitative","scale":{"domain":[-0.06,1.524],"nice":false,"zero":false},"axis":{"values":[0,0.5,1,1.5],"labelExpr":"datum.value+''","title":null}},"color":{"datum":"Hyper-methylated read - U end","scale":{"domain":["Hyper-methylated read - U end","Hyper-methylated read - D end"],"range":["#a020f0","#2e8b57"]},"legend":{"orient":"none","legendX":59,"legendY":3,"title":null}}}},
{"data":{"name":"b2D"},"mark":{"type":"line","strokeWidth":1,"opacity":0.85,"clip":true},"encoding":{"x":{"field":"x","type":"quantitative"},"y":{"field":"y","type":"quantitative"},"color":{"datum":"Hyper-methylated read - D end"}}}]},
{"width":145,"height":133,"title":{"text":"c","dx":-25,"offset":-8.5},"layer":[
{"data":{"name":"cR"},"mark":{"type":"line","strokeWidth":1,"clip":true},"encoding":{"x":{"field":"x","type":"quantitative","scale":{"domain":[-7,268],"nice":false,"zero":false},"axis":{"values":[0,100,200],"labelExpr":"datum.value+''","title":"Fragment size (bp)","titleY":22,"titleBaseline":"alphabetic"}},"y":{"field":"y","type":"quantitative","scale":{"domain":[-0.17,4.08],"nice":false,"zero":false},"axis":{"values":[0,2,4],"labelExpr":"datum.value+''","title":"Frequency (%)","titleX":-14,"titleBaseline":"alphabetic"}},"color":{"datum":"Hyper-methylated reads","scale":{"domain":["Hyper-methylated reads","Hypo-methylated reads"],"range":["#ff0000","#0000ff"]},"legend":{"orient":"none","legendX":2,"legendY":3,"title":null,"labelExpr":"split(datum.label, ' ')"}}}},
{"data":{"name":"cB"},"mark":{"type":"line","strokeWidth":1,"clip":true},"encoding":{"x":{"field":"x","type":"quantitative"},"y":{"field":"y","type":"quantitative"},"color":{"datum":"Hypo-methylated reads"}}}]},
{"width":33,"height":133,"data":{"values":[]},"mark":"point","view":{"stroke":null}},
{"width":227,"height":133,"title":{"text":"d","dx":-28,"offset":-8.5},"layer":[
{"data":{"name":"vl"},"mark":{"type":"rule","color":"#c8c8c8","strokeDash":[1,2]},"encoding":{"x":{"field":"x","type":"quantitative","scale":{"domain":[-106,107],"nice":false,"zero":false},"axis":{"values":[-100,-50,0,50,100],"labelExpr":"datum.value+''","title":"Relative position to nucleosome center (bp)","titleY":22,"titleBaseline":"alphabetic"}}}},
{"data":{"name":"dU"},"mark":{"type":"line","strokeWidth":1,"clip":true},"encoding":{"x":{"field":"x","type":"quantitative"},"y":{"field":"y","type":"quantitative","scale":{"domain":[-0.067,1.97],"nice":false,"zero":false},"axis":{"values":[0,0.5,1,1.5],"labelExpr":"datum.value+''","title":"Normalized end density","titleX":-18,"titleBaseline":"alphabetic"}},"color":{"datum":"Hypo-methylated read - U end","scale":{"domain":["Hypo-methylated read - U end","Hypo-methylated read - D end"],"range":["#ff0000","#0000ff"]},"legend":{"orient":"none","legendX":55,"legendY":3,"title":null}}}},
{"data":{"name":"dD"},"mark":{"type":"line","strokeWidth":1,"clip":true},"encoding":{"x":{"field":"x","type":"quantitative"},"y":{"field":"y","type":"quantitative"},"color":{"datum":"Hypo-methylated read - D end"}}}]},
{"width":23,"height":133,"data":{"values":[]},"mark":"point","view":{"stroke":null}},
{"width":231,"height":133,"layer":[
{"data":{"name":"vl"},"mark":{"type":"rule","color":"#c8c8c8","strokeDash":[1,2]},"encoding":{"x":{"field":"x","type":"quantitative","scale":{"domain":[-107,108],"nice":false,"zero":false},"axis":{"values":[-100,-50,0,50,100],"labelExpr":"datum.value+''","title":"Relative position to nucleosome center (bp)","titleY":22,"titleBaseline":"alphabetic"}}}},
{"data":{"name":"d2U"},"mark":{"type":"line","strokeWidth":1,"opacity":0.85,"clip":true},"encoding":{"x":{"field":"x","type":"quantitative"},"y":{"field":"y","type":"quantitative","scale":{"domain":[-0.073,1.47],"nice":false,"zero":false},"axis":{"values":[0,0.6,1.2],"labelExpr":"datum.value+''","title":null}},"color":{"datum":"Hyper-methylated read - U end","scale":{"domain":["Hyper-methylated read - U end","Hyper-methylated read - D end"],"range":["#a020f0","#2e8b57"]},"legend":{"orient":"none","legendX":59,"legendY":3,"title":null}}}},
{"data":{"name":"d2D"},"mark":{"type":"line","strokeWidth":1,"opacity":0.85,"clip":true},"encoding":{"x":{"field":"x","type":"quantitative"},"y":{"field":"y","type":"quantitative"},"color":{"datum":"Hyper-methylated read - D end"}}}]},
{"width":145,"height":133,"title":{"text":"e","dx":-25,"offset":-8.5},"layer":[
{"data":{"name":"eR"},"mark":{"type":"line","strokeWidth":1,"clip":true},"encoding":{"x":{"field":"x","type":"quantitative","scale":{"domain":[-7,268],"nice":false,"zero":false},"axis":{"values":[0,100,200],"labelExpr":"datum.value+''","title":"Fragment size (bp)","titleY":22,"titleBaseline":"alphabetic"}},"y":{"field":"y","type":"quantitative","scale":{"domain":[-0.11,3.66],"nice":false,"zero":false},"axis":{"values":[0,1,2,3],"labelExpr":"datum.value+''","title":"Frequency (%)","titleX":-14,"titleBaseline":"alphabetic"}},"color":{"datum":"Hyper-methylated reads","scale":{"domain":["Hyper-methylated reads","Hypo-methylated reads"],"range":["#ff0000","#0000ff"]},"legend":{"orient":"none","legendX":2,"legendY":3,"title":null,"labelExpr":"split(datum.label, ' ')"}}}},
{"data":{"name":"eB"},"mark":{"type":"line","strokeWidth":1,"clip":true},"encoding":{"x":{"field":"x","type":"quantitative"},"y":{"field":"y","type":"quantitative"},"color":{"datum":"Hypo-methylated reads"}}}]},
{"width":33,"height":133,"data":{"values":[]},"mark":"point","view":{"stroke":null}},
{"width":227,"height":133,"title":{"text":"f","dx":-28,"offset":-8.5},"layer":[
{"data":{"name":"vl"},"mark":{"type":"rule","color":"#c8c8c8","strokeDash":[1,2]},"encoding":{"x":{"field":"x","type":"quantitative","scale":{"domain":[-106,107],"nice":false,"zero":false},"axis":{"values":[-100,-50,0,50,100],"labelExpr":"datum.value+''","title":"Relative position to nucleosome center (bp)","titleY":22,"titleBaseline":"alphabetic"}}}},
{"data":{"name":"fU"},"mark":{"type":"line","strokeWidth":1,"clip":true},"encoding":{"x":{"field":"x","type":"quantitative"},"y":{"field":"y","type":"quantitative","scale":{"domain":[-0.065,2.11],"nice":false,"zero":false},"axis":{"values":[0,1,2],"labelExpr":"datum.value+''","title":"Normalized end density","titleX":-18,"titleBaseline":"alphabetic"}},"color":{"datum":"Hypo-methylated read - U end","scale":{"domain":["Hypo-methylated read - U end","Hypo-methylated read - D end"],"range":["#ff0000","#0000ff"]},"legend":{"orient":"none","legendX":55,"legendY":3,"title":null}}}},
{"data":{"name":"fD"},"mark":{"type":"line","strokeWidth":1,"clip":true},"encoding":{"x":{"field":"x","type":"quantitative"},"y":{"field":"y","type":"quantitative"},"color":{"datum":"Hypo-methylated read - D end"}}}]},
{"width":23,"height":133,"data":{"values":[]},"mark":"point","view":{"stroke":null}},
{"width":231,"height":133,"layer":[
{"data":{"name":"vl"},"mark":{"type":"rule","color":"#c8c8c8","strokeDash":[1,2]},"encoding":{"x":{"field":"x","type":"quantitative","scale":{"domain":[-107,108],"nice":false,"zero":false},"axis":{"values":[-100,-50,0,50,100],"labelExpr":"datum.value+''","title":"Relative position to nucleosome center (bp)","titleY":22,"titleBaseline":"alphabetic"}}}},
{"data":{"name":"f2U"},"mark":{"type":"line","strokeWidth":1,"opacity":0.85,"clip":true},"encoding":{"x":{"field":"x","type":"quantitative"},"y":{"field":"y","type":"quantitative","scale":{"domain":[-0.04,1.535],"nice":false,"zero":false},"axis":{"values":[0,0.5,1,1.5],"labelExpr":"datum.value+''","title":null}},"color":{"datum":"Hyper-methylated read - U end","scale":{"domain":["Hyper-methylated read - U end","Hyper-methylated read - D end"],"range":["#a020f0","#2e8b57"]},"legend":{"orient":"none","legendX":59,"legendY":3,"title":null}}}},
{"data":{"name":"f2D"},"mark":{"type":"line","strokeWidth":1,"opacity":0.85,"clip":true},"encoding":{"x":{"field":"x","type":"quantitative"},"y":{"field":"y","type":"quantitative"},"color":{"datum":"Hyper-methylated read - D end"}}}]}
],"columns":5,"spacing":{"row":33,"column":0},"bounds":"flush",
"resolve":{"scale":{"color":"independent","x":"independent","y":"independent"},"legend":{"color":"independent"}}},
{"hconcat":[
{"width":192,"height":133,"title":{"text":"g","dx":-25,"offset":-10},"layer":[
{"data":{"name":"gR"},"mark":{"type":"line","strokeWidth":1.2,"clip":true},"encoding":{"x":{"field":"x","type":"quantitative","scale":{"domain":[43.5,213.6],"nice":false,"zero":false},"axis":{"values":[50,100,150,200],"labelExpr":"datum.value+''","title":"Fragment size (bp)","titleY":22,"titleBaseline":"alphabetic"}},"y":{"field":"y","type":"quantitative","scale":{"domain":[53.9,79.4],"nice":false,"zero":false},"axis":{"orient":"left","values":[55,65,75],"labelExpr":"datum.value+''","title":"DNA methylation level (%)","titleX":-16.5,"titleBaseline":"alphabetic","labelColor":"#ff2a2a","domainColor":"#ff9090","tickColor":"#ff9090"}},"color":{"datum":"Hyper-methylated reads","scale":{"domain":["Hyper-methylated reads","Hypo-methylated reads"],"range":["#ff0000","#0000ff"]},"legend":{"orient":"none","legendX":7,"legendY":3.8,"title":null,"labelExpr":"split(datum.label, ' ')"}}}},
{"data":{"name":"gB"},"mark":{"type":"line","strokeWidth":1.2,"clip":true},"encoding":{"x":{"field":"x","type":"quantitative"},"y":{"field":"y","type":"quantitative","scale":{"domain":[-0.067,2.62],"nice":false,"zero":false},"axis":{"orient":"right","values":[0,1,2],"labelExpr":"datum.value+''","title":null,"labelColor":"#3a3aff","domainColor":"#9a9aff","tickColor":"#9a9aff"}},"color":{"datum":"Hypo-methylated reads"}}}],
"resolve":{"scale":{"y":"independent"}}},
{"width":32,"height":133,"data":{"values":[]},"mark":"point","view":{"stroke":null}},
{"width":187,"height":133,"title":{"text":"h","dx":-22,"offset":-10},"layer":[
{"data":{"name":"hR"},"mark":{"type":"line","strokeWidth":1.2,"clip":true},"encoding":{"x":{"field":"x","type":"quantitative","scale":{"domain":[44.1,209.1],"nice":false,"zero":false},"axis":{"values":[50,100,150,200],"labelExpr":"datum.value+''","title":"Fragment size (bp)","titleY":22,"titleBaseline":"alphabetic"}},"y":{"field":"y","type":"quantitative","scale":{"domain":[55.97,74.44],"nice":false,"zero":false},"axis":{"orient":"left","values":[60,65,70],"labelExpr":"datum.value+''","title":null,"labelColor":"#ff2a2a","domainColor":"#ff9090","tickColor":"#ff9090"}},"color":{"datum":"Hyper-methylated reads","scale":{"domain":["Hyper-methylated reads","Hypo-methylated reads"],"range":["#ff0000","#0000ff"]},"legend":{"orient":"none","legendX":8,"legendY":3.8,"title":null,"labelExpr":"split(datum.label, ' ')"}}}},
{"data":{"name":"hB"},"mark":{"type":"line","strokeWidth":1.2,"clip":true},"encoding":{"x":{"field":"x","type":"quantitative"},"y":{"field":"y","type":"quantitative","scale":{"domain":[-0.058,2.8],"nice":false,"zero":false},"axis":{"orient":"right","values":[0,1,2],"labelExpr":"datum.value+''","title":null,"labelColor":"#3a3aff","domainColor":"#9a9aff","tickColor":"#9a9aff"}},"color":{"datum":"Hypo-methylated reads"}}}],
"resolve":{"scale":{"y":"independent"}}},
{"width":32,"height":133,"data":{"values":[]},"mark":"point","view":{"stroke":null}},
{"width":187,"height":133,"title":{"text":"i","dx":-18,"offset":-10},"layer":[
{"data":{"name":"iR"},"mark":{"type":"line","strokeWidth":1.2,"clip":true},"encoding":{"x":{"field":"x","type":"quantitative","scale":{"domain":[43.3,205.9],"nice":false,"zero":false},"axis":{"values":[50,100,150,200],"labelExpr":"datum.value+''","title":"Fragment size (bp)","titleY":22,"titleBaseline":"alphabetic"}},"y":{"field":"y","type":"quantitative","scale":{"domain":[36.8,80.3],"nice":false,"zero":false},"axis":{"orient":"left","values":[45,55,65,75],"labelExpr":"datum.value+''","title":null,"labelColor":"#ff2a2a","domainColor":"#ff9090","tickColor":"#ff9090"}},"color":{"datum":"Hyper-methylated reads","scale":{"domain":["Hyper-methylated reads","Hypo-methylated reads"],"range":["#ff0000","#0000ff"]},"legend":{"orient":"none","legendX":7,"legendY":3.8,"title":null,"labelExpr":"split(datum.label, ' ')"}}}},
{"data":{"name":"iB"},"mark":{"type":"line","strokeWidth":1.2,"clip":true},"encoding":{"x":{"field":"x","type":"quantitative"},"y":{"field":"y","type":"quantitative","scale":{"domain":[-0.09,2.95],"nice":false,"zero":false},"axis":{"orient":"right","values":[0,1,2],"labelExpr":"datum.value+''","title":"Size frequency (%)","titleX":28,"titleAngle":-90,"titleBaseline":"alphabetic","labelColor":"#3a3aff","domainColor":"#9a9aff","tickColor":"#9a9aff"}},"color":{"datum":"Hypo-methylated reads"}}}],
"resolve":{"scale":{"y":"independent"}}}
],"spacing":0,"bounds":"flush",
"resolve":{"scale":{"color":"independent","x":"independent","y":"independent"},"legend":{"color":"independent"}}}
],"spacing":-2.5,"bounds":"full",
"resolve":{"scale":{"color":"independent","x":"independent","y":"independent"},"legend":{"color":"independent"}}
}
